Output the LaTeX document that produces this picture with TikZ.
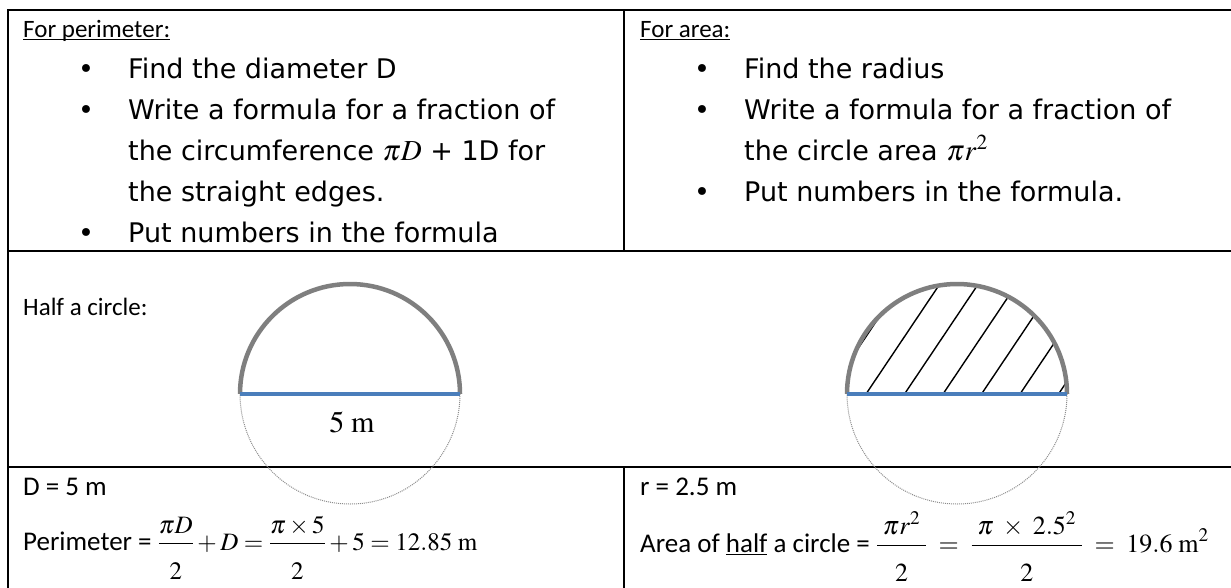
\documentclass[tikz,border=0pt]{standalone}
\usepackage{mathptmx}
\usepackage[no-math]{fontspec}
\setmainfont{Carlito}
\newfontfamily\comicf{DejaVu Sans}
\newlength\ulw
\newcommand\myul[1]{\settowidth\ulw{#1}\rlap{\rule[-3pt]{\ulw}{1.2pt}}#1}
\newcommand\dn[1]{\rule{0pt}{32pt}#1}
\newcommand\mathbig[1]{{\fontsize{29}{34}\selectfont$#1$}}
\newcommand\eqsize{\fontsize{25}{30}\selectfont}
\newcommand\eqsizeb{\fontsize{26}{31}\selectfont}
\definecolor{arcgray}{HTML}{7F7F7F}
\definecolor{baseblue}{HTML}{4A7EBB}
\definecolor{dotgray}{HTML}{8C8C8C}
\begin{document}
\begin{tikzpicture}[x=1pt,y=-1pt,
  cal/.style={anchor=base west,inner sep=0pt,font=\fontsize{25}{30}\selectfont},
  calb/.style={anchor=base west,inner sep=0pt,font=\fontsize{27}{32}\selectfont},
  com/.style={anchor=base west,inner sep=0pt,font=\comicf\fontsize{27}{32}\selectfont},
  bul/.style={anchor=base,inner sep=0pt,font=\comicf\fontsize{27}{32}\selectfont},
  grid/.style={line width=2pt,line cap=rect},
  halfarc/.style={arcgray,line width=4.5pt},
  diam/.style={baseblue,line width=4.5pt},
  dotarc/.style={dotgray,line width=1pt,dash pattern=on 1pt off 1pt},
  hatchline/.style={black,line width=1.4pt}]
\useasboundingbox (0,0) rectangle (1231,587);
% table
\draw[grid] (8,10) -- (1231,10);
\draw[grid] (8,10) -- (8,587);
\draw[grid] (624,10) -- (624,251);
\draw[grid] (8,251) -- (1231,251);
\draw[grid] (8,467) -- (1231,467);
\draw[grid] (624,467) -- (624,587);
% row 1 left
\node[cal] (hp) at (23,37) {\myul{For perimeter:}};
\node[bul] (bp1) at (86,78) {•};
\node[com] (tp1) at (128,78) {Find the diameter D};
\node[bul] (bp2) at (86,119) {•};
\node[com] (tp2) at (128,119) {Write a formula for a fraction of};
\node[com] (tp3) at (128,160) {the circumference \mathbig{\pi D} + 1D for};
\node[com] (tp4) at (128,201) {the straight edges.};
\node[bul] (bp3) at (86,242) {•};
\node[com] (tp5) at (128,242) {Put numbers in the formula};
% row 1 right
\node[cal] (ha) at (640,37) {\myul{For area:}};
\node[bul] (ba1) at (702,78) {•};
\node[com] (ta1) at (744,78) {Find the radius};
\node[bul] (ba2) at (702,119) {•};
\node[com] (ta2) at (744,119) {Write a formula for a fraction of};
\node[com] (ta3) at (744,160) {the circle area \mathbig{\pi r^2}};
\node[bul] (ba3) at (702,201) {•};
\node[com] (ta4) at (744,201) {Put numbers in the formula.};
% row 2
\node[cal] (half) at (23,315) {Half a circle:};
\draw[dotarc] (460,394) arc[start angle=0,end angle=180,radius=110];
\draw[halfarc] (240,394) arc[start angle=180,end angle=360,radius=110];
\draw[diam] (240,394) -- (460,394);
\node[anchor=base,inner sep=0pt,font=\fontsize{30}{36}\selectfont] (lab) at (352,432) {$5\ \mathrm{m}$};
\begin{scope}
\clip (847,394) arc[start angle=180,end angle=360,radius=110] -- cycle;
\foreach \x in {827.5,866,904.5,943,981.5,1020,1058.5}
  \draw[hatchline] (\x,394) -- ++(80.5,-120);
\end{scope}
\draw[dotarc] (1067,394) arc[start angle=0,end angle=180,radius=110];
\draw[halfarc] (847,394) arc[start angle=180,end angle=360,radius=110];
\draw[diam] (847,394) -- (1067,394);
% row 3
\node[calb] (dl) at (23,495) {D = 5 m};
\node[calb] (pl) at (23,550) {Perimeter = {\eqsize$\displaystyle\frac{\pi D}{\dn{2}}+D=\frac{\pi\times 5}{\dn{2}}+5=12.85\ \mathrm{m}$}};
\node[calb] (rl) at (640,495) {r = 2.5 m};
\node[calb] (al) at (640,552) {Area of \myul{half} a circle = {\eqsizeb$\displaystyle\frac{\;\pi r^2\;}{\dn{2}}\;=\;\frac{\;\pi\;\times\;2.5^2\;}{\dn{2}}\;=\;19.6\ \mathrm{m}^2$}};
\end{tikzpicture}
\end{document}
